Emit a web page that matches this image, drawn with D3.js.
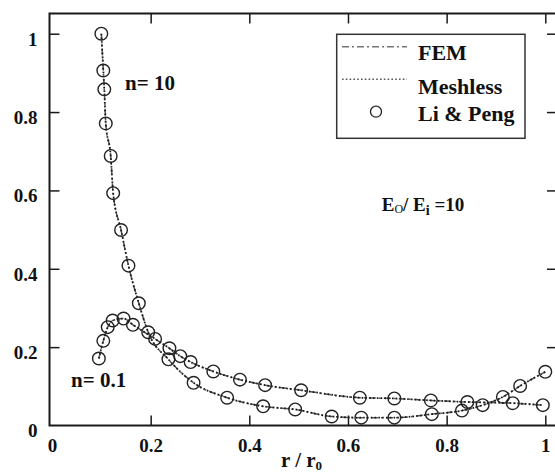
<!DOCTYPE html>
<html>
<head>
<meta charset="utf-8">
<script src="https://cdn.jsdelivr.net/npm/d3@7"></script>
<style>
  html, body { margin: 0; padding: 0; background: #fff; }
  svg { display: block; }
  text { font-family: "Liberation Serif", "Times New Roman", serif; font-weight: bold; fill: #111; }
</style>
</head>
<body>
<div id="chart"></div>
<script>
// n = 10 curve (FEM / Meshless / Li & Peng share these points)
const r10 = [0.100, 0.104, 0.106, 0.109, 0.119, 0.124, 0.140, 0.155, 0.176, 0.195, 0.236, 0.287, 0.355, 0.428, 0.493, 0.567, 0.627, 0.694, 0.770, 0.831, 0.873, 0.914, 0.949, 1.000];
const s10 = [1.000, 0.906, 0.858, 0.771, 0.688, 0.593, 0.499, 0.408, 0.312, 0.238, 0.169, 0.109, 0.071, 0.049, 0.041, 0.023, 0.020, 0.020, 0.029, 0.038, 0.052, 0.073, 0.101, 0.137];

// n = 0.1 curve
const r01 = [0.095, 0.104, 0.113, 0.123, 0.145, 0.164, 0.209, 0.238, 0.260, 0.281, 0.327, 0.381, 0.432, 0.505, 0.624, 0.694, 0.768, 0.842, 0.934, 0.995];
const s01 = [0.171, 0.216, 0.251, 0.268, 0.273, 0.257, 0.221, 0.197, 0.177, 0.162, 0.138, 0.117, 0.103, 0.090, 0.071, 0.069, 0.064, 0.060, 0.057, 0.052];

const xTicks = [0, 0.2, 0.4, 0.6, 0.8, 1];
const yTicks = [0, 0.2, 0.4, 0.6, 0.8, 1];
const legendItems = ['FEM', 'Meshless', 'Li & Peng'];

const W = 555, H = 475;
const frame = { left: 49.5, right: 557, top: 13.5, bottom: 425.5 };
const INK = '#1a1a1a';

const svg = d3.select('#chart').append('svg').attr('width', W).attr('height', H);

const x = d3.scaleLinear().domain([0, 1]).range([52, 545.3]);
const y = d3.scaleLinear().domain([0, 1]).range([425.5, 33.7]);

function styleAxis(g, hideZero) {
  g.select('.domain').remove();
  g.selectAll('.tick line').attr('stroke', INK).attr('stroke-width', 1.5);
  if (hideZero) g.selectAll('.tick').filter((d) => d === 0).select('line').remove();
  g.selectAll('text')
    .style('font-family', '"Liberation Serif", "Times New Roman", serif')
    .style('font-weight', 'bold')
    .style('font-size', '19px')
    .attr('fill', INK);
}

// bottom axis
svg.append('g')
  .attr('transform', `translate(0,${frame.bottom})`)
  .call(d3.axisBottom(x).tickValues(xTicks).tickFormat(d3.format('')).tickSize(-10).tickPadding(13))
  .call((g) => styleAxis(g, true));

// left axis
svg.append('g')
  .attr('transform', `translate(${frame.left},0)`)
  .call(d3.axisLeft(y).tickValues(yTicks).tickFormat(d3.format('')).tickSize(-10).tickPadding(12))
  .call((g) => styleAxis(g, true))
  .selectAll('text').attr('dy', '0.6em');

// top and right ticks, no labels
svg.append('g')
  .attr('transform', `translate(0,${frame.top})`)
  .call(d3.axisTop(x).tickValues(xTicks).tickFormat('').tickSize(-10))
  .call((g) => styleAxis(g, true));
svg.append('g')
  .attr('transform', `translate(${frame.right},0)`)
  .call(d3.axisRight(y).tickValues(yTicks).tickFormat('').tickSize(-10))
  .call((g) => styleAxis(g, true));

// frame
svg.append('rect')
  .attr('x', frame.left).attr('y', frame.top)
  .attr('width', frame.right - frame.left).attr('height', frame.bottom - frame.top)
  .attr('fill', 'none').attr('stroke', INK).attr('stroke-width', 2);

const series = [
  { r: r10, s: s10 },
  { r: r01, s: s01 },
];

const line = d3.line().x((d) => x(d[0])).y((d) => y(d[1])).curve(d3.curveMonotoneX);

series.forEach((sr) => {
  const pts = sr.r.map((v, i) => [v, sr.s[i]]);
  // FEM: dash-dot
  svg.append('path').datum(pts)
    .attr('fill', 'none').attr('stroke', '#555').attr('stroke-width', 1.5)
    .attr('stroke-dasharray', '7,3,2,3').attr('d', line);
  // Meshless: dotted
  svg.append('path').datum(pts)
    .attr('fill', 'none').attr('stroke', '#1a1a1a').attr('stroke-width', 1.8)
    .attr('stroke-dasharray', '1.6,2.2').attr('d', line);
  // Li & Peng: open circles
  svg.append('g').selectAll('circle').data(pts).enter().append('circle')
    .attr('cx', (d) => x(d[0])).attr('cy', (d) => y(d[1])).attr('r', 6.3)
    .attr('fill', 'none').attr('stroke', '#222').attr('stroke-width', 1.4);
});

// legend
const lg = svg.append('g');
lg.append('rect').attr('x', 336.7).attr('y', 34.3).attr('width', 188.3).attr('height', 104)
  .attr('fill', '#fff').attr('stroke', '#333').attr('stroke-width', 1.5);
lg.append('line').attr('x1', 342).attr('x2', 407).attr('y1', 46.7).attr('y2', 46.7)
  .attr('stroke', '#777').attr('stroke-width', 1.4).attr('stroke-dasharray', '7,3,2,3');
lg.append('line').attr('x1', 342).attr('x2', 407).attr('y1', 79.3).attr('y2', 79.3)
  .attr('stroke', '#555').attr('stroke-width', 1.4).attr('stroke-dasharray', '1.6,2.2');
lg.append('circle').attr('cx', 376).attr('cy', 111.7).attr('r', 5.5)
  .attr('fill', 'none').attr('stroke', '#222').attr('stroke-width', 1.3);
const lgY = [59.5, 93.5, 120.5];
legendItems.forEach((t, i) => {
  lg.append('text').attr('x', 418).attr('y', lgY[i]).style('font-size', '22px').text(t);
});

// annotations
svg.append('text').attr('x', 125).attr('y', 90).style('font-size', '21px').text('n= 10');
svg.append('text').attr('x', 71).attr('y', 387).style('font-size', '21px').text('n= 0.1');

const ratio = svg.append('text').attr('x', 381.7).attr('y', 211).style('font-size', '19px');
ratio.append('tspan').text('E');
ratio.append('tspan').attr('dy', 2).style('font-size', '12px').style('font-weight', 'normal').text('O');
ratio.append('tspan').attr('dy', -2).text('/ E');
ratio.append('tspan').attr('dy', 4).style('font-size', '14px').text('i');
ratio.append('tspan').attr('dy', -4).text(' =10');

const xt = svg.append('text').attr('x', 281).attr('y', 467).style('font-size', '21px');
xt.append('tspan').text('r / r');
xt.append('tspan').attr('dy', 3).style('font-size', '13px').text('0');
</script>
</body>
</html>
